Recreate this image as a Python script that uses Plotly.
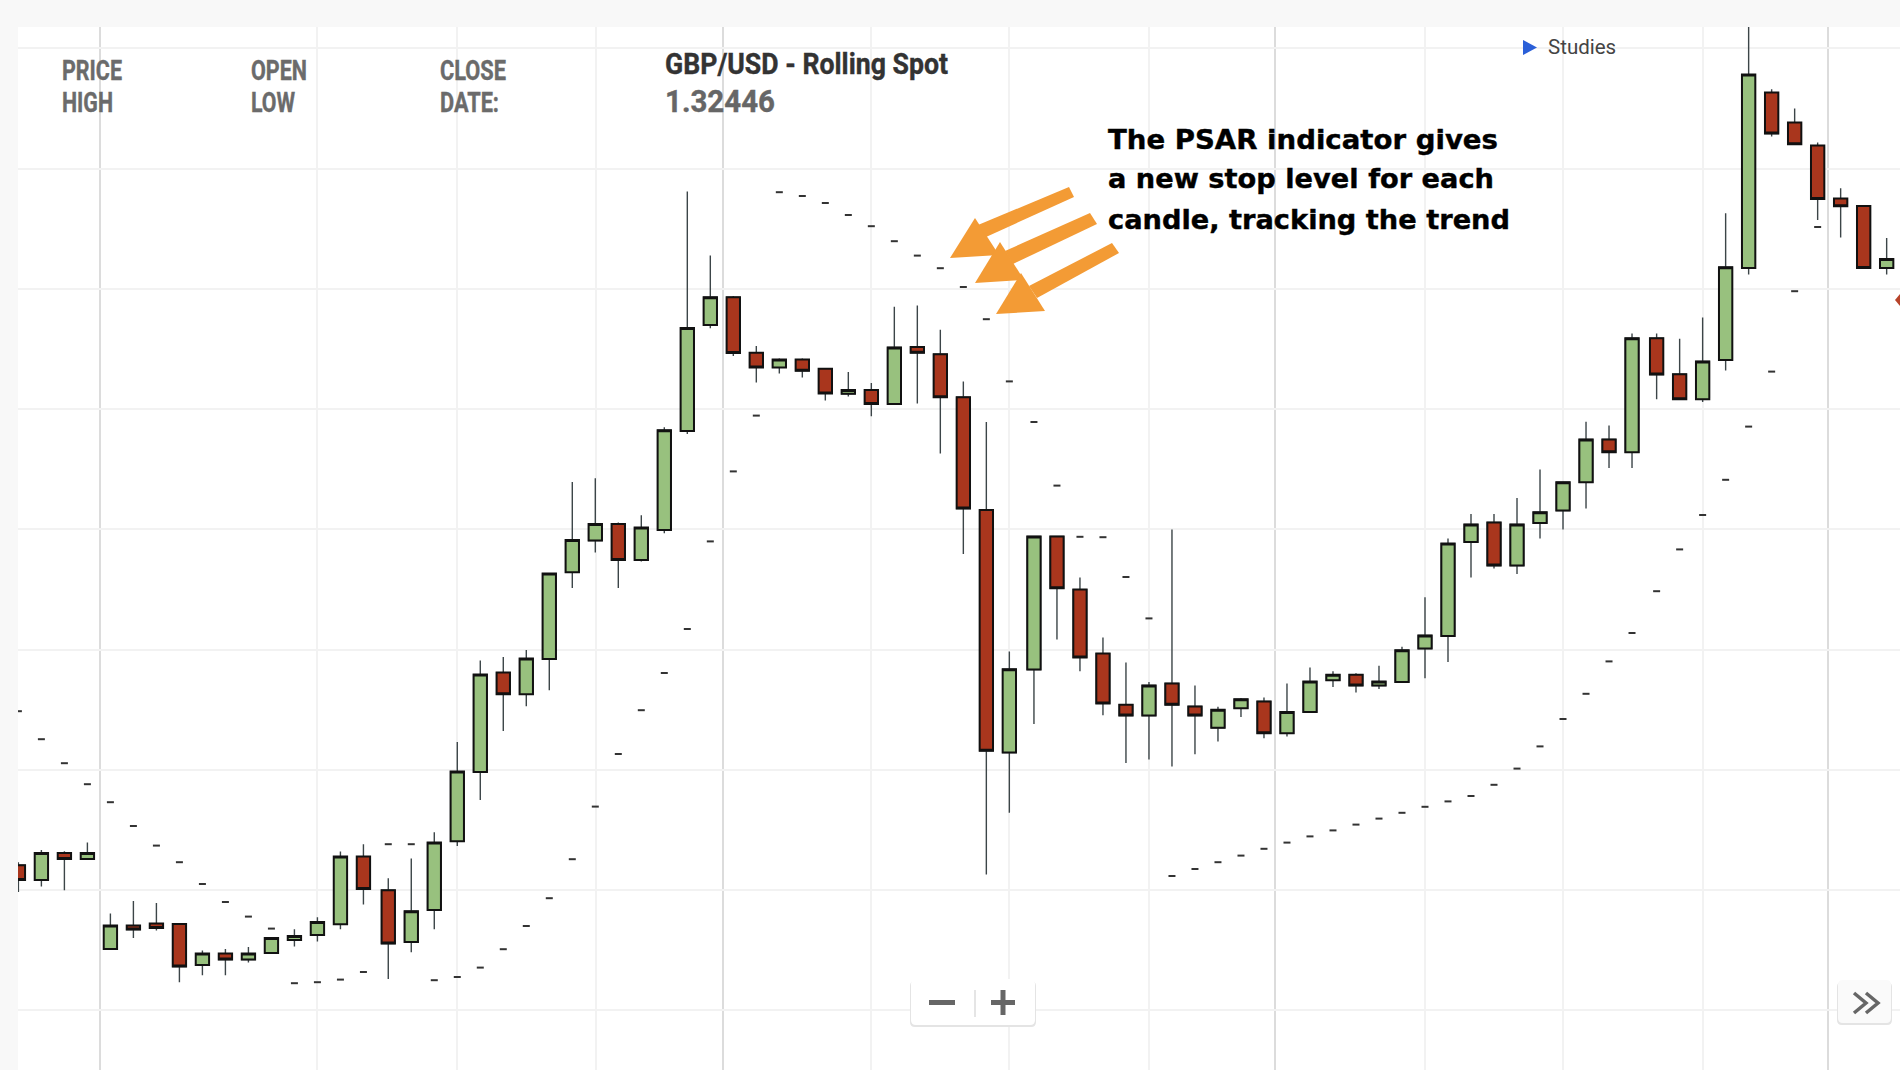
import json
import plotly.graph_objects as go

# GBP/USD rolling spot candles with PSAR dashes
sessions = [0, 1, 2, 3, 4, 5, 6, 7, 8, 9, 10, 11, 12, 13, 14, 15,
            16.08, 17.08, 18.08, 19.08, 20.08, 21.08, 22.08, 23.08, 24.08, 25.08, 26.08, 27.08, 28.08, 29.08,
            30.08, 31.08, 32.08, 33.08, 34.08, 35.08, 36.08, 37.08, 38.08, 39.08, 40.08, 41.08, 42.08, 43.08,
            44.15, 45.15, 46.15, 47.15, 48.15, 49.15, 50.15, 51.15, 52.15, 53.15, 54.15, 55.15, 56.15, 57.15,
            58.15, 59.15, 60.15, 61.15, 62.15, 63.15, 64.15, 65.15, 66.15, 67.15, 68.15, 69.15, 70.15,
            71.22, 72.22, 73.22, 74.22, 75.22, 76.22, 77.22, 78.22, 79.22, 80.22, 81.22]

opens = [1.29624, 1.29550, 1.29685, 1.29655, 1.29205, 1.29322, 1.29332, 1.29330, 1.29125, 1.29182,
         1.29152, 1.29185, 1.29250, 1.29275, 1.29329, 1.29667, 1.29499, 1.29240, 1.29400, 1.29744,
         1.30090, 1.30587, 1.30479, 1.30655, 1.31089, 1.31247, 1.31330, 1.31150, 1.31300, 1.31795,
         1.32325, 1.32464, 1.32186, 1.32113, 1.32152, 1.32106, 1.31981, 1.32000, 1.31930, 1.32215,
         1.32179, 1.31964, 1.31400, 1.30187, 1.30602, 1.31268, 1.31002, 1.30682, 1.30426, 1.30372,
         1.30533, 1.30418, 1.30311, 1.30409, 1.30443, 1.30284, 1.30390, 1.30549, 1.30576, 1.30522,
         1.30540, 1.30707, 1.30770, 1.31240, 1.31338, 1.31122, 1.31335, 1.31397, 1.31539, 1.31753,
         1.31689, 1.32259, 1.32079, 1.31954, 1.32150, 1.32610, 1.33487, 1.33337, 1.33222, 1.32957,
         1.32920, 1.32610]
highs = [1.29639, 1.29700, 1.29694, 1.29737, 1.29382, 1.29445, 1.29435, 1.29330, 1.29197, 1.29205,
         1.29215, 1.29260, 1.29304, 1.29364, 1.29692, 1.29729, 1.29559, 1.29657, 1.29789, 1.30240,
         1.30647, 1.30665, 1.30700, 1.31082, 1.31540, 1.31559, 1.31337, 1.31374, 1.31814, 1.32992,
         1.32672, 1.32470, 1.32220, 1.32158, 1.32158, 1.32106, 1.32090, 1.32035, 1.32416, 1.32423,
         1.32301, 1.32043, 1.31840, 1.30692, 1.31268, 1.31268, 1.31063, 1.30763, 1.30638, 1.30540,
         1.31302, 1.30523, 1.30416, 1.30460, 1.30462, 1.30532, 1.30613, 1.30594, 1.30584, 1.30621,
         1.30716, 1.30964, 1.31257, 1.31380, 1.31380, 1.31460, 1.31603, 1.31539, 1.31841, 1.31822,
         1.32283, 1.32283, 1.32256, 1.32362, 1.32884, 1.33900, 1.33504, 1.33407, 1.33237, 1.33009,
         1.32920, 1.32760]
lows = [1.29490, 1.29517, 1.29499, 1.29655, 1.29205, 1.29260, 1.29297, 1.29039, 1.29074, 1.29074,
        1.29137, 1.29180, 1.29217, 1.29242, 1.29304, 1.29427, 1.29055, 1.29189, 1.29304, 1.29720,
        1.29950, 1.30295, 1.30419, 1.30499, 1.31010, 1.31187, 1.31010, 1.31142, 1.31284, 1.31780,
        1.32309, 1.32170, 1.32037, 1.32083, 1.32062, 1.31947, 1.31968, 1.31869, 1.31930, 1.31932,
        1.31683, 1.31180, 1.29578, 1.29886, 1.30330, 1.30753, 1.30594, 1.30374, 1.30135, 1.30152,
        1.30118, 1.30179, 1.30242, 1.30365, 1.30259, 1.30267, 1.30390, 1.30515, 1.30488, 1.30505,
        1.30540, 1.30559, 1.30640, 1.31063, 1.31107, 1.31080, 1.31257, 1.31303, 1.31407, 1.31610,
        1.31610, 1.31954, 1.31954, 1.31940, 1.32097, 1.32577, 1.33267, 1.33229, 1.32850, 1.32762,
        1.32607, 1.32577]
closes = [1.29550, 1.29685, 1.29655, 1.29685, 1.29322, 1.29302, 1.29310, 1.29117, 1.29182, 1.29152,
          1.29182, 1.29260, 1.29270, 1.29340, 1.29667, 1.29505, 1.29232, 1.29394, 1.29737, 1.30092,
          1.30577, 1.30479, 1.30657, 1.31082, 1.31250, 1.31330, 1.31150, 1.31312, 1.31799, 1.32310,
          1.32464, 1.32185, 1.32113, 1.32152, 1.32096, 1.31983, 1.32000, 1.31930, 1.32213, 1.32186,
          1.31964, 1.31407, 1.30196, 1.30604, 1.31268, 1.31009, 1.30663, 1.30433, 1.30372, 1.30523,
          1.30426, 1.30372, 1.30401, 1.30454, 1.30284, 1.30390, 1.30542, 1.30576, 1.30522, 1.30542,
          1.30699, 1.30773, 1.31232, 1.31328, 1.31122, 1.31328, 1.31389, 1.31539, 1.31753, 1.31689,
          1.32259, 1.32077, 1.31954, 1.32143, 1.32614, 1.33577, 1.33282, 1.33229, 1.32955, 1.32919,
          1.32610, 1.32655]
psar = [1.30394, 1.30254, 1.30134, 1.30029, 1.29939, 1.29820, 1.29722, 1.29639, 1.29530, 1.29440,
        1.29367, 1.29307, 1.29034, 1.29039, 1.29052, 1.29090, 1.29729, 1.29729, 1.29049, 1.29065,
        1.29112, 1.29204, 1.29320, 1.29459, 1.29654, 1.29917, 1.30180, 1.30399, 1.30585, 1.30805,
        1.31243, 1.31593, 1.31872, 1.32989, 1.32970, 1.32935, 1.32875, 1.32819, 1.32744, 1.32672,
        1.32609, 1.32515, 1.32354, 1.32043, 1.31840, 1.31522, 1.31266, 1.31264, 1.31065, 1.30858,
        1.29570, 1.29605, 1.29639, 1.29672, 1.29706, 1.29737, 1.29768, 1.29798, 1.29827, 1.29857,
        1.29886, 1.29916, 1.29943, 1.29970, 1.30026, 1.30107, 1.30218, 1.30355, 1.30481, 1.30643,
        1.30785, 1.30994, 1.31203, 1.31375, 1.31551, 1.31817, 1.32092, 1.32494, 1.32815, None,
        None, None]

price_grid = [1.2890, 1.2950, 1.3010, 1.30702, 1.31303, 1.31904, 1.32505, 1.33105, 1.33708]
day_grid = [3.55, 30.61, 54.63, 78.68]
hour_grid = [13, 19.07, 25.11, 37.07, 43.07, 49.15, 61.15, 67.15, 73.22]

header_labels = [("PRICE", 60, 71), ("HIGH", 60, 103), ("OPEN", 249, 71), ("LOW", 249, 103),
                 ("CLOSE", 438, 71), ("DATE:", 438, 103)]
note_lines = ["The PSAR indicator gives", "a new stop level for each", "candle, tracking the trend"]
# no condensed font here, so these get squeezed to their width in the page
squeezed = {"PRICE": 60, "HIGH": 51, "OPEN": 56, "LOW": 44, "CLOSE": 66, "DATE:": 59,
            "GBP/USD - Rolling Spot": 283, "1.32446": 110,
            "The PSAR indicator gives": 390, "a new stop level for each": 386, "candle, tracking the trend": 402}

GREEN = "#98c17e"
RED = "#a9361d"
ORANGE = "#f39b35"
LEFT, TOP, W, H = 18, 27, 1900, 1070


def xp(px):
    return (px - LEFT) / (W - LEFT)


def yp(py):
    return (H - py) / (H - TOP)


def poly(points, color, width=0):
    path = "M " + " L ".join(f"{xp(x):.5f},{yp(y):.5f}" for x, y in points) + " Z"
    return dict(type="path", xref="paper", yref="paper", path=path, fillcolor=color,
                line=dict(color=color, width=width), layer="above")


def box(x0, y0, x1, y1, color, layer="above"):
    return dict(type="rect", xref="paper", yref="paper", x0=xp(x0), x1=xp(x1), y0=yp(y0), y1=yp(y1),
                fillcolor=color, line=dict(color=color, width=0), layer=layer)


def button(x0, y0, x1, y1, color):
    r = 5
    p = lambda x, y: f"{xp(x):.5f},{yp(y):.5f}"
    path = (f"M {p(x0 + r, y0)} L {p(x1 - r, y0)} Q {p(x1, y0)} {p(x1, y0 + r)} L {p(x1, y1 - r)} "
            f"Q {p(x1, y1)} {p(x1 - r, y1)} L {p(x0 + r, y1)} Q {p(x0, y1)} {p(x0, y1 - r)} "
            f"L {p(x0, y0 + r)} Q {p(x0, y0)} {p(x0 + r, y0)} Z")
    return dict(type="path", xref="paper", yref="paper", path=path, fillcolor=color,
                line=dict(color=color, width=0), layer="above")


def chevron(x0, x1, y0, y1):
    path = f"M {xp(x0):.5f},{yp(y0):.5f} L {xp(x1):.5f},{yp((y0 + y1) / 2):.5f} L {xp(x0):.5f},{yp(y1):.5f}"
    return dict(type="path", xref="paper", yref="paper", path=path, line=dict(color="#666666", width=3.5),
                layer="above")


def label(text, px, py, family, size, color, weight="bold"):
    return dict(text=text, x=xp(px), y=yp(py), xref="paper", yref="paper", xanchor="left", yanchor="middle",
                showarrow=False, font=dict(family=family, size=size, color=color, weight=weight))


fig = go.Figure()

# wicks first, thin, then the bodies with a heavier outline on top
fig.add_trace(go.Candlestick(
    x=sessions, open=opens, high=highs, low=lows, close=closes,
    increasing=dict(line=dict(color="#3c4548", width=1.4), fillcolor=GREEN),
    decreasing=dict(line=dict(color="#3c4548", width=1.4), fillcolor=RED),
    hoverinfo="skip", showlegend=False
))
fig.add_trace(go.Candlestick(
    x=sessions, open=opens, close=closes,
    high=[max(o, c) for o, c in zip(opens, closes)],
    low=[min(o, c) for o, c in zip(opens, closes)],
    increasing=dict(line=dict(color="#111111", width=2), fillcolor=GREEN),
    decreasing=dict(line=dict(color="#111111", width=2), fillcolor=RED),
    hoverinfo="skip", showlegend=False
))
fig.add_trace(go.Scatter(
    x=sessions, y=psar, mode="markers", name="PSAR",
    marker=dict(symbol="line-ew", size=5, line=dict(color="#333333", width=2)),
    hoverinfo="skip", showlegend=False
))

shapes = [
    box(18, 55, 647, 118, "white", layer="below"),
    box(647, 44, 966, 122, "white", layer="below"),
    # orange arrows
    poly([(950, 258), (975, 218), (999, 255)], ORANGE),
    poly([(986, 237), (978, 225), (1069, 187), (1074, 197)], ORANGE),
    poly([(975, 283), (1000, 242), (1024, 280)], ORANGE),
    poly([(1013, 264), (1005, 251), (1090, 213), (1097, 224)], ORANGE),
    poly([(996, 314), (1021, 273), (1045, 311)], ORANGE),
    poly([(1037, 298), (1029, 286), (1112, 243), (1119, 253)], ORANGE),
    # studies triangle and last price marker
    poly([(1523, 40), (1537, 47.5), (1523, 55)], "#2a5fd8"),
    poly([(1895, 300), (1900, 294), (1900, 306)], "#b8432a"),
    # zoom buttons
    button(910, 981, 1036, 1027, "#e4e4e4"),
    button(911, 979, 1035, 1025, "white"),
    box(929, 1000, 955, 1005, "#666666"),
    box(991, 1000, 1015, 1005, "#666666"),
    box(1000.5, 990, 1005.5, 1015, "#666666"),
    box(974.5, 990, 975.5, 1017, "#cccccc"),
    button(1837, 982, 1892, 1025, "#e4e4e4"),
    button(1838, 980, 1891, 1023, "#fafafa"),
    chevron(1854, 1866, 993, 1013),
    chevron(1866, 1878, 993, 1013),
]

annotations = [label(text, px, py, "Roboto", 27, "#6b6b6b") for text, px, py in header_labels]
annotations.append(label("GBP/USD - Rolling Spot", 663, 64, "Roboto", 30, "#333333"))
annotations.append(label("1.32446", 663, 102, "Roboto", 31, "#666666"))
annotations.append(label("Studies", 1546, 47.5, "Roboto", 20.5, "#444444", weight="normal"))
for line, py in zip(note_lines, [140, 179, 219]):
    annotations.append(label(line, 1106, py, "DejaVu Sans", 27, "#000000"))

fig.update_layout(
    width=W, height=H,
    margin=dict(l=LEFT, r=0, t=TOP, b=0),
    paper_bgcolor="#f8f8f8", plot_bgcolor="white",
    boxmode="overlay", boxgap=0.42, boxgroupgap=0,
    shapes=shapes, annotations=annotations,
    xaxis=dict(range=[-0.017, 81.8], rangeslider=dict(visible=False), showticklabels=False,
               ticks="", zeroline=False, showline=False,
               tickmode="array", tickvals=day_grid, showgrid=True, gridcolor="#dcdcdc", gridwidth=2,
               minor=dict(tickmode="array", tickvals=hour_grid, showgrid=True, gridcolor="#f2f2f2",
                          gridwidth=2, ticks="")),
    yaxis=dict(range=[1.2860, 1.33815], showticklabels=False, ticks="", zeroline=False, showline=False,
               tickmode="array", tickvals=price_grid, showgrid=True, gridcolor="#f2f2f2", gridwidth=2),
)

squeeze_js = """
document.body.style.margin = '0';
var widths = %s;
document.querySelectorAll('.annotation-text').forEach(function (t) {
    var target = widths[t.textContent];
    if (!target) return;
    var w = t.getComputedTextLength();
    t.setAttribute('x', parseFloat(t.getAttribute('x')) - w / 2 + target / 2);
    t.setAttribute('textLength', target);
    t.setAttribute('lengthAdjust', 'spacingAndGlyphs');
    t.style.stroke = t.style.fill;
    t.style.strokeWidth = '0.4px';
});
""" % json.dumps(squeezed)

fig.write_html("out.html", config=dict(displayModeBar=False), post_script=squeeze_js)
